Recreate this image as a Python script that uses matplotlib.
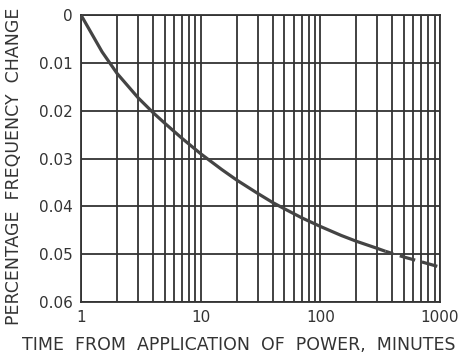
# frequency drift vs time after power-on
import matplotlib
matplotlib.use('Agg')
import matplotlib.pyplot as plt
from matplotlib.ticker import FixedLocator, NullFormatter

# values
minutes = [1, 1.5, 2, 3, 4, 5, 7, 10, 15, 20, 30, 40, 50, 70, 100, 150, 200, 300, 350]
change = [0, 0.0077, 0.0122, 0.0173, 0.0204, 0.0226, 0.0258, 0.0290, 0.0323, 0.0345,
          0.0373, 0.0392, 0.0405, 0.0424, 0.0442, 0.0461, 0.0473, 0.0488, 0.0494]
# extrapolated part (dashed)
minutes_ext = [350, 500, 700, 1000]
change_ext = [0.0494, 0.0506, 0.0516, 0.0527]

y_ticks = [0, 0.01, 0.02, 0.03, 0.04, 0.05, 0.06]
y_labels = ['0', '0.01', '0.02', '0.03', '0.04', '0.05', '0.06']
x_ticks = [1, 10, 100, 1000]
x_labels = ['1', '10', '100', '1000']

ink = '#333333'

fig = plt.figure(figsize=(4.59, 3.58), dpi=100)
ax = fig.add_axes([0.1765, 0.1564, 0.9586 - 0.1765, 0.958 - 0.1564])

ax.plot(minutes, change, color='#444444', lw=2.3, solid_capstyle='butt',
        solid_joinstyle='round', zorder=3)
ax.plot(minutes_ext, change_ext, color='#444444', lw=2.3, linestyle=(2.5, (5, 2.2)),
        dash_capstyle='butt', zorder=3)

ax.set_xscale('log')
ax.set_xlim(1, 1000)
ax.set_ylim(0.06, 0)

ax.xaxis.set_major_locator(FixedLocator(x_ticks))
ax.xaxis.set_minor_locator(FixedLocator([m * d for d in (1, 10, 100) for m in range(2, 10)]))
ax.xaxis.set_minor_formatter(NullFormatter())
ax.set_xticks(x_ticks, x_labels)
ax.set_yticks(y_ticks, y_labels)

ax.grid(True, which='both', axis='x', color=ink, lw=1.3)
ax.grid(True, which='major', axis='y', color=ink, lw=1.3)
ax.tick_params(which='both', length=0, labelsize=11, colors=ink, pad=6)
for s in ax.spines.values():
    s.set_color(ink)
    s.set_linewidth(1.3)

fig.text(0.03, 0.535, 'PERCENTAGE  FREQUENCY  CHANGE', rotation=90, ha='center', va='center',
         fontsize=12.5, color=ink)
fig.text(0.52, 0.036, 'TIME  FROM  APPLICATION  OF  POWER,  MINUTES', ha='center', va='center',
         fontsize=12.5, color=ink)

fig.savefig('out.png', dpi=100)
